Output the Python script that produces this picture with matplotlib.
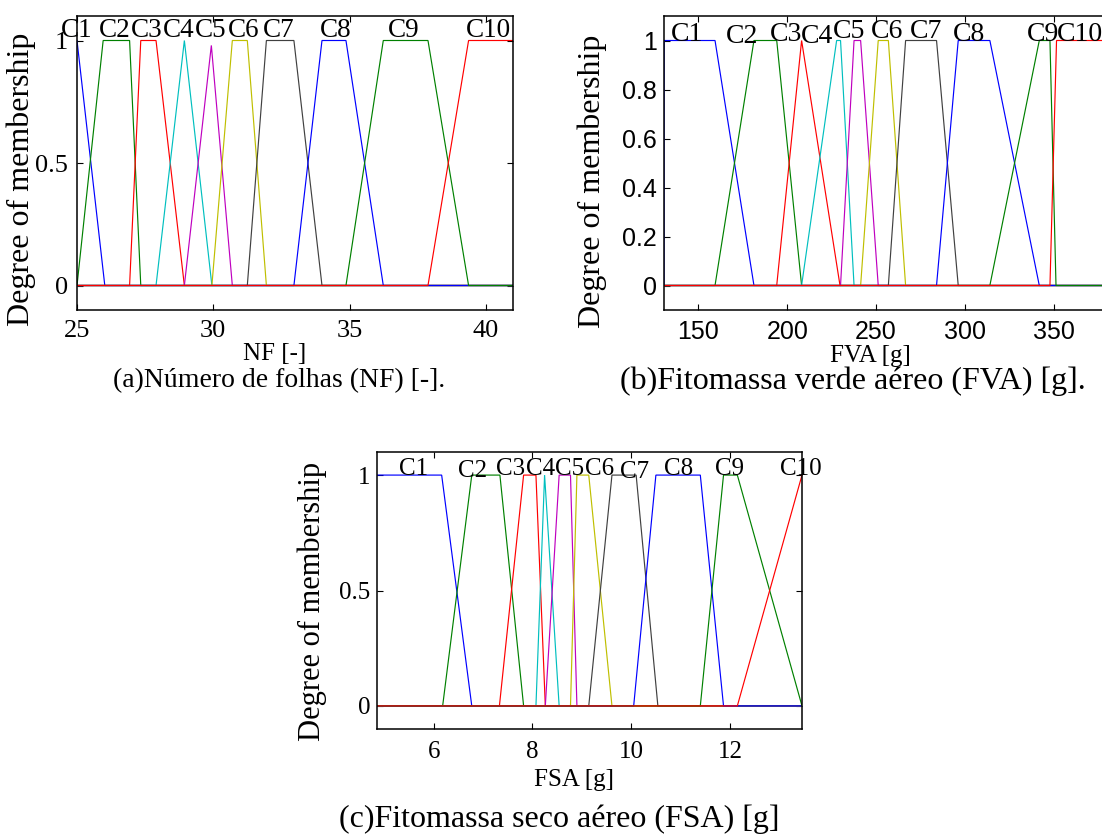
import numpy as np
import matplotlib
matplotlib.use("Agg")
import matplotlib.pyplot as plt

# ---------------- data ----------------
mf_names = ["C1", "C2", "C3", "C4", "C5", "C6", "C7", "C8", "C9", "C10"]
mf_colors = ["#0000ff", "#008000", "#ff0000", "#00bfbf", "#bf00bf",
             "#bfbf00", "#404040", "#0000ff", "#008000", "#ff0000"]

# (a) Numero de folhas
nf_range = [25.0, 41.0]
nf_params = [[24.0, 25.0, 25.0, 26.02],
             [25.0, 25.96, 26.93, 27.34],
             [26.93, 27.34, 27.9, 28.94],
             [27.9, 28.94, 28.94, 29.95],
             [28.94, 29.93, 29.93, 30.7],
             [29.95, 30.7, 31.25, 31.95],
             [31.25, 31.95, 32.96, 33.99],
             [32.96, 33.99, 34.87, 36.24],
             [34.87, 36.24, 37.88, 39.37],
             [37.88, 39.37, 41.5, 42.0]]
nf_heights = [1, 1, 1, 1, 0.98, 1, 1, 1, 1, 1]
nf_label_x = [25.0, 26.39, 27.54, 28.72, 29.91, 31.1, 32.4, 34.5, 37.0, 40.1]
nf_label_y = [1.013] * 10
nf_xticks = [25, 30, 35, 40]
nf_yticks = [0, 0.5, 1]

# (b) Fitomassa verde aereo
fva_range = [130.7, 382.7]
fva_params = [[130.7, 130.75, 159.4, 181.3],
              [159.4, 181.3, 194.1, 208.1],
              [194.1, 208.1, 208.1, 229.7],
              [208.1, 227.8, 230.0, 237.6],
              [230.0, 237.6, 241.3, 251.2],
              [241.3, 251.2, 256.9, 266.6],
              [256.9, 266.6, 284.0, 296.2],
              [284.0, 296.2, 314.0, 341.8],
              [314.0, 341.8, 347.8, 351.2],
              [347.8, 351.5, 400.0, 410.0]]
fva_heights = [1] * 10
fva_label_x = [143.8, 174.7, 199.3, 216.9, 235.0, 256.3, 278.0, 302.0, 343.7, 364.7]
fva_label_y = [1.0, 0.99, 1.0, 0.99, 1.01, 1.01, 1.01, 1.0, 1.0, 1.0]
fva_xticks = [150, 200, 250, 300, 350]
fva_yticks = [0, 0.2, 0.4, 0.6, 0.8, 1]

# (c) Fitomassa seco aereo
fsa_range = [4.85, 13.46]
fsa_params = [[3.0, 4.0, 6.16, 6.77],
              [6.18, 6.77, 7.34, 7.82],
              [7.33, 7.82, 8.07, 8.26],
              [8.07, 8.245, 8.245, 8.54],
              [8.26, 8.54, 8.77, 8.9],
              [8.77, 8.9, 9.14, 9.61],
              [9.14, 9.61, 10.1, 10.54],
              [10.05, 10.5, 11.4, 11.87],
              [11.4, 11.87, 12.15, 13.46],
              [12.15, 13.46, 14.0, 15.0]]
fsa_heights = [1] * 10
fsa_label_x = [5.6, 6.78, 7.55, 8.17, 8.76, 9.35, 10.06, 10.96, 11.99, 13.44]
fsa_label_y = [1.0, 0.99, 1.0, 1.0, 1.0, 1.0, 0.988, 1.0, 1.0, 1.0]
fsa_xticks = [6, 8, 10, 12]
fsa_yticks = [0, 0.5, 1]

# ---------------- figure ----------------
W, H = 1102, 834
fig = plt.figure(figsize=(W / 100, H / 100), dpi=100)
SERIF = ["Liberation Serif", "DejaVu Serif"]
SANS = ["Liberation Sans", "DejaVu Sans"]


def add_axes_px(left, top, right, bottom):
    return fig.add_axes([left / W, 1 - bottom / H, (right - left) / W, (bottom - top) / H])


def trap_curve(p, h, rng):
    a, b, c, d = p
    xs = [rng[0]] + [v for v in (a, b, c, d) if rng[0] < v < rng[1]] + [rng[1]]
    xs = np.array(sorted(set(xs)))
    y = np.interp(xs, [a, b, c, d], [0, h, h, 0], left=0, right=0)
    return xs, y


def panel(box, rng, params, heights, lab_x, lab_y, xticks, yticks,
          tick_font, tick_size, lab_size, xlabel, xlab_size, xlab_px, ylab_px,
          ylab_size, pad_x, pad_y):
    ax = add_axes_px(*box)
    for p, h, col in zip(params, heights, mf_colors):
        xs, ys = trap_curve(p, h, rng)
        ax.plot(xs, ys, color=col, lw=0.85, solid_joinstyle="miter", clip_on=True)
    for name, lx, ly in zip(mf_names, lab_x, lab_y):
        ax.text(lx, ly, name, ha="center", va="baseline", family=SERIF,
                fontsize=lab_size, clip_on=False)
    ax.set_xlim(rng)
    ax.set_ylim(-0.1, 1.1)
    ax.set_xticks(xticks)
    ax.set_yticks(yticks)
    ax.set_xticklabels([f"{t:g}" for t in xticks], family=tick_font, fontsize=tick_size)
    ax.set_yticklabels([f"{t:g}" for t in yticks], family=tick_font, fontsize=tick_size)
    ax.tick_params(direction="in", length=4, width=0.8, top=True, right=True)
    ax.tick_params(axis="x", pad=pad_x)
    ax.tick_params(axis="y", pad=pad_y)
    for s in ax.spines.values():
        s.set_linewidth(1.1)
    left, top, right, bottom = box
    ax.set_xlabel(xlabel, family=SERIF, fontsize=xlab_size, va="center")
    ax.xaxis.set_label_coords((xlab_px[0] - left) / (right - left),
                              (bottom - xlab_px[1]) / (bottom - top))
    ax.set_ylabel("Degree of membership", family=SERIF, fontsize=ylab_size, va="center")
    ax.yaxis.set_label_coords((ylab_px[0] - left) / (right - left),
                              (bottom - ylab_px[1]) / (bottom - top))
    return ax


panel((77, 16, 513, 310), nf_range, nf_params, nf_heights, nf_label_x, nf_label_y,
      nf_xticks, nf_yticks, SERIF, 19, 19.5, "NF [-]", 18, (275, 354), (21, 179), 23, 7, 6.5)
panel((664, 16, 1112, 310), fva_range, fva_params, fva_heights, fva_label_x, fva_label_y,
      fva_xticks, fva_yticks, SANS, 18, 20, "FVA [g]", 18, (870, 356), (592, 181), 23, 7, 5)
panel((377, 452, 802, 729), fsa_range, fsa_params, fsa_heights, fsa_label_x, fsa_label_y,
      fsa_xticks, fsa_yticks, SERIF, 18, 18, "FSA [g]", 18, (574, 780), (312, 601), 22, 9, 5)

fig.text(279 / W, 1 - 381 / H, "(a)Número de folhas (NF) [-].", family=SERIF,
         fontsize=20, ha="center", va="center")
fig.text(853 / W, 1 - 381 / H, "(b)Fitomassa verde aéreo (FVA) [g].", family=SERIF,
         fontsize=23, ha="center", va="center")
fig.text(559 / W, 1 - 819 / H, "(c)Fitomassa seco aéreo (FSA) [g]", family=SERIF,
         fontsize=23, ha="center", va="center")

fig.savefig("out.png", dpi=100)
